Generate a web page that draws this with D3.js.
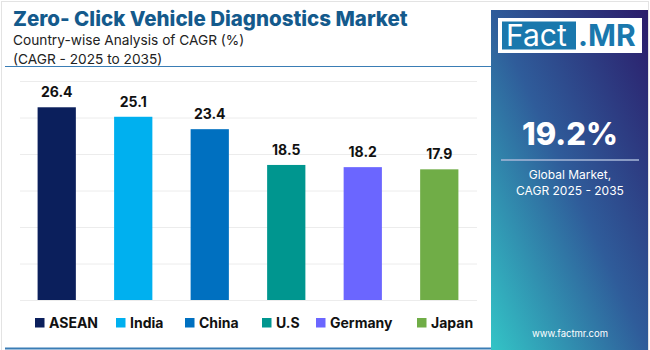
<!DOCTYPE html>
<html>
<head>
<meta charset="utf-8">
<script src="https://cdn.jsdelivr.net/npm/d3@7"></script>
<style>
  html, body { margin: 0; padding: 0; background: #fff; }
  svg { display: block; font-family: Inter, "Open Sans", sans-serif; }
</style>
</head>
<body>
<script>
// chart data
const countries = ['ASEAN', 'India', 'China', 'U.S', 'Germany', 'Japan'];
const cagrValues = [26.4, 25.1, 23.4, 18.5, 18.2, 17.9];
const barColors = ['#0b1f5c', '#00b0ef', '#0070c0', '#00968f', '#6b66ff', '#70ad47'];
const yTicks = [0, 5, 10, 15, 20, 25, 30];

const titleText = 'Zero- Click Vehicle Diagnostics Market';
const subtitleLines = ['Country-wise Analysis of CAGR (%)', '(CAGR - 2025 to 2035)'];
const globalValue = '19.2%';
const globalLabel = ['Global Market,', 'CAGR 2025 - 2035'];

const W = 650, H = 350;

const svg = d3.select('body').append('svg')
    .attr('width', W)
    .attr('height', H);

// outer frame
svg.append('rect')
    .attr('x', 1.5).attr('y', 1.5)
    .attr('width', W - 3).attr('height', H - 1)
    .attr('fill', '#fff')
    .attr('stroke', '#e3e3e3');

// title block
svg.append('text')
    .attr('x', 13).attr('y', 26)
    .attr('font-size', 20.5).attr('font-weight', 800)
    .attr('fill', '#145a8c')
    .text(titleText);

svg.selectAll('.subtitle')
    .data(subtitleLines)
    .enter().append('text')
    .attr('class', 'subtitle')
    .attr('x', 13)
    .attr('y', (d, i) => 45 + i * 19)
    .attr('font-size', 13.7)
    .attr('fill', '#222')
    .text(d => d);

svg.append('line')
    .attr('x1', 5).attr('x2', 491)
    .attr('y1', 66.5).attr('y2', 66.5)
    .attr('stroke', '#3a7db5').attr('stroke-width', 1.2);

svg.append('line')
    .attr('x1', 5).attr('x2', 491)
    .attr('y1', 348.5).attr('y2', 348.5)
    .attr('stroke', '#3a7db5').attr('stroke-width', 2);

// scales
const x = d3.scaleBand()
    .domain(countries)
    .range([20, 476])
    .paddingInner(0.5)
    .paddingOuter(0.23);

const y = d3.scaleLinear()
    .domain([0, 30])
    .range([300, 81]);

// gridlines
svg.append('g')
    .attr('transform', 'translate(20,0)')
    .call(d3.axisLeft(y).tickValues(yTicks).tickSize(-457).tickFormat(''))
    .call(g => g.select('.domain').remove())
    .call(g => g.selectAll('.tick line').attr('stroke', '#ececec'));

// bars
svg.selectAll('.bar')
    .data(countries)
    .enter().append('rect')
    .attr('class', 'bar')
    .attr('x', d => x(d))
    .attr('width', x.bandwidth())
    .attr('y', (d, i) => y(cagrValues[i]))
    .attr('height', (d, i) => y(0) - y(cagrValues[i]))
    .attr('fill', (d, i) => barColors[i]);

// value labels
svg.selectAll('.val')
    .data(countries)
    .enter().append('text')
    .attr('class', 'val')
    .attr('x', d => x(d) + x.bandwidth() / 2)
    .attr('y', (d, i) => y(cagrValues[i]) - 10)
    .attr('text-anchor', 'middle')
    .attr('font-size', 14).attr('font-weight', 700)
    .attr('fill', '#111')
    .text((d, i) => cagrValues[i].toFixed(1));

// legend
const legendX = [35, 116, 185, 262, 316, 417];
const legend = svg.selectAll('.legend')
    .data(countries)
    .enter().append('g')
    .attr('class', 'legend')
    .attr('transform', (d, i) => `translate(${legendX[i]},318)`);

legend.append('rect')
    .attr('width', 9.5).attr('height', 9.5)
    .attr('fill', (d, i) => barColors[i]);

legend.append('text')
    .attr('x', 14).attr('y', 9.5)
    .attr('font-size', 14).attr('font-weight', 700)
    .attr('fill', '#111')
    .text(d => d);

// right panel
const defs = svg.append('defs');
const grad = defs.append('linearGradient')
    .attr('id', 'panelGrad')
    .attr('x1', 0).attr('y1', 1)
    .attr('x2', 1).attr('y2', 0);
grad.append('stop').attr('offset', 0).attr('stop-color', '#33c4c6');
grad.append('stop').attr('offset', 0.5).attr('stop-color', '#2f5c9a');
grad.append('stop').attr('offset', 1).attr('stop-color', '#2b1c6a');

svg.append('rect')
    .attr('x', 491).attr('y', 10)
    .attr('width', 157).attr('height', 340)
    .attr('fill', 'url(#panelGrad)');

// logo
svg.append('rect')
    .attr('x', 498).attr('y', 18)
    .attr('width', 144).attr('height', 35)
    .attr('fill', '#fff');

svg.append('rect')
    .attr('x', 502).attr('y', 21.5)
    .attr('width', 74).attr('height', 28)
    .attr('fill', '#1a78ad');

svg.append('text')
    .attr('x', 506).attr('y', 46)
    .attr('font-size', 30).attr('font-weight', 400)
    .attr('fill', '#fff')
    .text('Fact');

svg.append('text')
    .attr('x', 578).attr('y', 46)
    .attr('font-size', 30).attr('font-weight', 700)
    .attr('fill', '#1a78ad')
    .text('.MR');

svg.append('text')
    .attr('x', 570).attr('y', 145)
    .attr('text-anchor', 'middle')
    .attr('font-size', 31).attr('font-weight', 800)
    .attr('fill', '#fff')
    .text(globalValue);

svg.append('line')
    .attr('x1', 501).attr('x2', 639)
    .attr('y1', 160).attr('y2', 160)
    .attr('stroke', '#a9b8d8').attr('stroke-width', 1.5);

svg.selectAll('.glabel')
    .data(globalLabel)
    .enter().append('text')
    .attr('class', 'glabel')
    .attr('x', 570)
    .attr('y', (d, i) => 179 + i * 16)
    .attr('text-anchor', 'middle')
    .attr('font-size', 12)
    .attr('fill', '#fff')
    .text(d => d);

svg.append('text')
    .attr('x', 570).attr('y', 337)
    .attr('text-anchor', 'middle')
    .attr('font-size', 9.5)
    .attr('fill', '#fff')
    .text('www.factmr.com');
</script>
</body>
</html>
